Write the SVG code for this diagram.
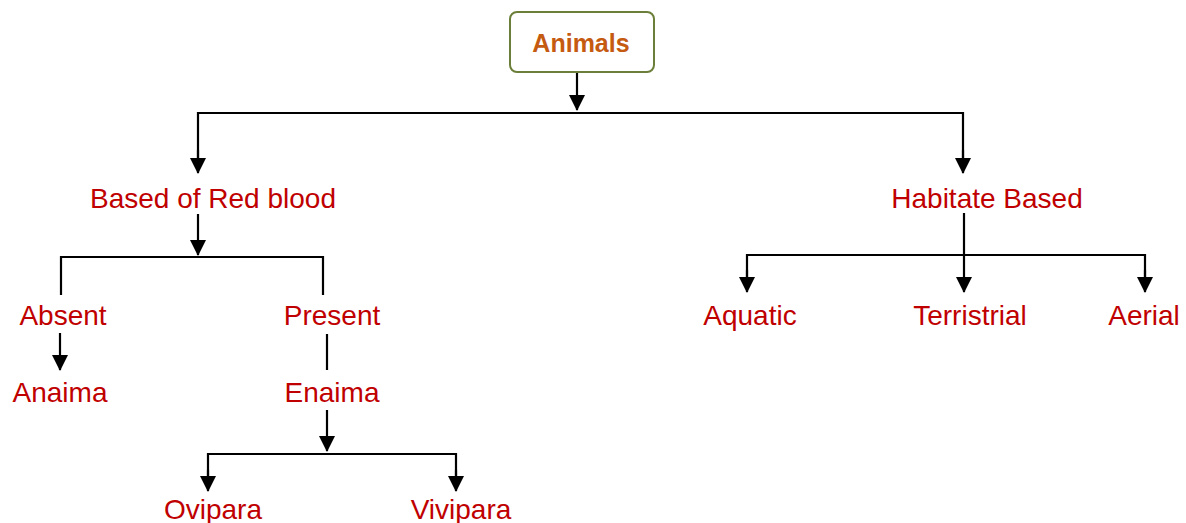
<svg xmlns="http://www.w3.org/2000/svg" width="1186" height="523" viewBox="0 0 1186 523">
<style>
.lbl{font-family:"Liberation Sans",Arial,sans-serif;font-size:28px;fill:#C00000;text-anchor:middle}
.ln{stroke:#000;stroke-width:2.2;fill:none}
.arr{stroke:#000;stroke-width:2.2;fill:none;marker-end:url(#ah)}
</style>
<defs>
<marker id="ah" markerUnits="userSpaceOnUse" markerWidth="16" markerHeight="16" viewBox="0 0 16 16" refX="15" refY="8" orient="auto">
<path d="M0,0 L16,8 L0,16 Z" fill="#000"/>
</marker>
</defs>
<rect width="1186" height="523" fill="#fff"/>
<g id="connectors">
<line class="arr" x1="577" y1="72" x2="577" y2="110"/>
<polyline class="ln" points="198,160 198,113 963,113 963,160"/>
<line class="arr" x1="198" y1="150" x2="198" y2="173"/>
<line class="arr" x1="963" y1="150" x2="963" y2="173"/>
<line class="arr" x1="198" y1="214" x2="198" y2="255"/>
<polyline class="ln" points="61,295 61,257 323,257 323,295"/>
<line class="arr" x1="60" y1="333" x2="60" y2="370"/>
<line class="ln" x1="327" y1="334" x2="327" y2="370"/>
<line class="arr" x1="327" y1="410" x2="327" y2="451"/>
<polyline class="ln" points="208,480 208,454 456,454 456,480"/>
<line class="arr" x1="208" y1="470" x2="208" y2="491"/>
<line class="arr" x1="456" y1="470" x2="456" y2="491"/>
<line class="arr" x1="964" y1="213" x2="964" y2="292"/>
<polyline class="ln" points="747,280 747,255 1145,255 1145,280"/>
<line class="arr" x1="747" y1="270" x2="747" y2="292"/>
<line class="arr" x1="1145" y1="270" x2="1145" y2="292"/>
</g>
<g id="animals">
<rect x="510" y="12" width="144" height="60" rx="7" fill="#fff" stroke="#6B7F3A" stroke-width="2"/>
<text x="581" y="52" font-family="Liberation Sans,Arial,sans-serif" font-weight="bold" font-size="25" fill="#C55A11" text-anchor="middle">Animals</text>
</g>
<g id="red-blood"><text class="lbl" x="213" y="208">Based of Red blood</text></g>
<g id="habitate"><text class="lbl" x="987" y="208">Habitate Based</text></g>
<g id="absent"><text class="lbl" x="63" y="325">Absent</text></g>
<g id="present"><text class="lbl" x="332" y="325">Present</text></g>
<g id="anaima"><text class="lbl" x="60" y="402">Anaima</text></g>
<g id="enaima"><text class="lbl" x="332" y="402">Enaima</text></g>
<g id="ovipara"><text class="lbl" x="213" y="519">Ovipara</text></g>
<g id="vivipara"><text class="lbl" x="461" y="519">Vivipara</text></g>
<g id="aquatic"><text class="lbl" x="750" y="325">Aquatic</text></g>
<g id="terristrial"><text class="lbl" x="970" y="325">Terristrial</text></g>
<g id="aerial"><text class="lbl" x="1144" y="325">Aerial</text></g>
</svg>
